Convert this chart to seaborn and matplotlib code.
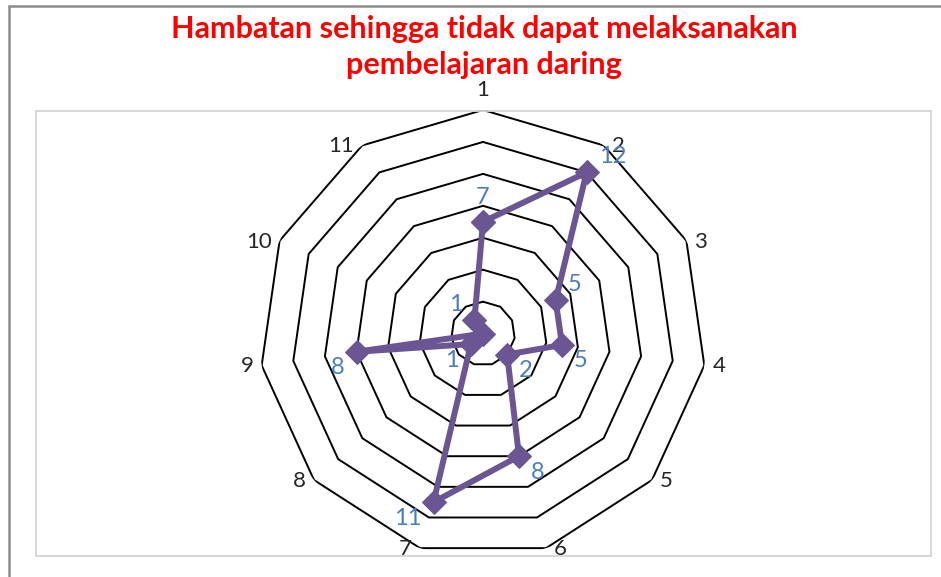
import numpy as np
import pandas as pd
import matplotlib
matplotlib.use("Agg")
import matplotlib.pyplot as plt
import seaborn as sns
from matplotlib.patches import Rectangle

# data
categories = ['1', '2', '3', '4', '5', '6', '7', '8', '9', '10', '11']
values = [7, 12, 5, 5, 2, 8, 11, 1, 8, 0, 1]
ring_levels = [2, 4, 6, 8, 10, 12, 14]
title = "Hambatan sehingga tidak dapat melaksanakan\npembelajaran daring"

sns.set_style("white")
plt.rcParams['font.family'] = ['Lato', 'DejaVu Sans']

W, H = 941, 577
purple = '#6B5592'
label_blue = '#4A7EBB'

fig = plt.figure(figsize=(W / 100, H / 100), dpi=100)

# chart border and plot-area box
fig.patches.append(Rectangle((9 / W, -0.1), 1.2, 1 - 6 / H + 0.1, transform=fig.transFigure,
                             fill=False, edgecolor='#8C8C8C', lw=1.8))
fig.patches.append(Rectangle((36 / W, 1 - 556 / H), (931 - 36) / W, (556 - 111) / H,
                             transform=fig.transFigure, fill=False, edgecolor='#D4D4D4', lw=1.3))

# radar axes
cx, cy, R = 483, 333.6, 223.6
ax = fig.add_axes([(cx - R) / W, (H - cy - R) / H, 2 * R / W, 2 * R / H], projection='polar')
ax.set_theta_zero_location('N')
ax.set_theta_direction(-1)
ax.grid(False)
ax.spines['polar'].set_visible(False)
ax.patch.set_alpha(0)

n = len(categories)
angles = np.linspace(0, 2 * np.pi, n, endpoint=False)
closed_angles = np.append(angles, angles[0] + 2 * np.pi)

# polygon rings
for lvl in ring_levels:
    ax.plot(closed_angles, [lvl] * (n + 1), color='black', lw=1.4, zorder=1)

# data series
df = pd.DataFrame({'theta': closed_angles, 'value': values + values[:1]})
sns.lineplot(data=df, x='theta', y='value', sort=False, estimator=None, ax=ax,
             color=purple, lw=4.3, marker='D', markersize=12.5,
             markeredgecolor=purple, zorder=3)

ax.set_ylim(0, max(ring_levels))
ax.set_xticks([])
ax.set_yticks([])
ax.set_xlabel('')
ax.set_ylabel('')

# value labels
for th, v in zip(angles, values):
    if v == 0:
        continue
    s, c = np.sin(th), np.cos(th)
    if abs(s) < 0.1:
        off, ha, va = (0, 14), 'center', 'bottom'
    else:
        off = (12 * np.sign(s), 16 * np.sign(c))
        ha, va = ('left' if s > 0 else 'right'), 'center'
    ax.annotate(str(v), (th, v), xytext=off, textcoords='offset pixels',
                ha=ha, va=va, color=label_blue, fontsize=17, zorder=4)

# category labels
for th, lab in zip(angles, categories):
    s, c = np.sin(th), np.cos(th)
    if abs(s) < 0.1:
        off, ha, va = (0, 10), 'center', 'bottom'
    else:
        off, ha, va = (8 * np.sign(s), -1), ('left' if s > 0 else 'right'), 'center'
    ax.annotate(lab, (th, max(ring_levels)), xytext=off, textcoords='offset pixels',
                ha=ha, va=va, color='#262626', fontsize=16, annotation_clip=False)

fig.text(484 / W, 1 - 47 / H, title, ha='center', va='center', color='#FF0000',
         fontsize=22, fontweight='bold', linespacing=1.38)

fig.savefig('out.png', dpi=100)
